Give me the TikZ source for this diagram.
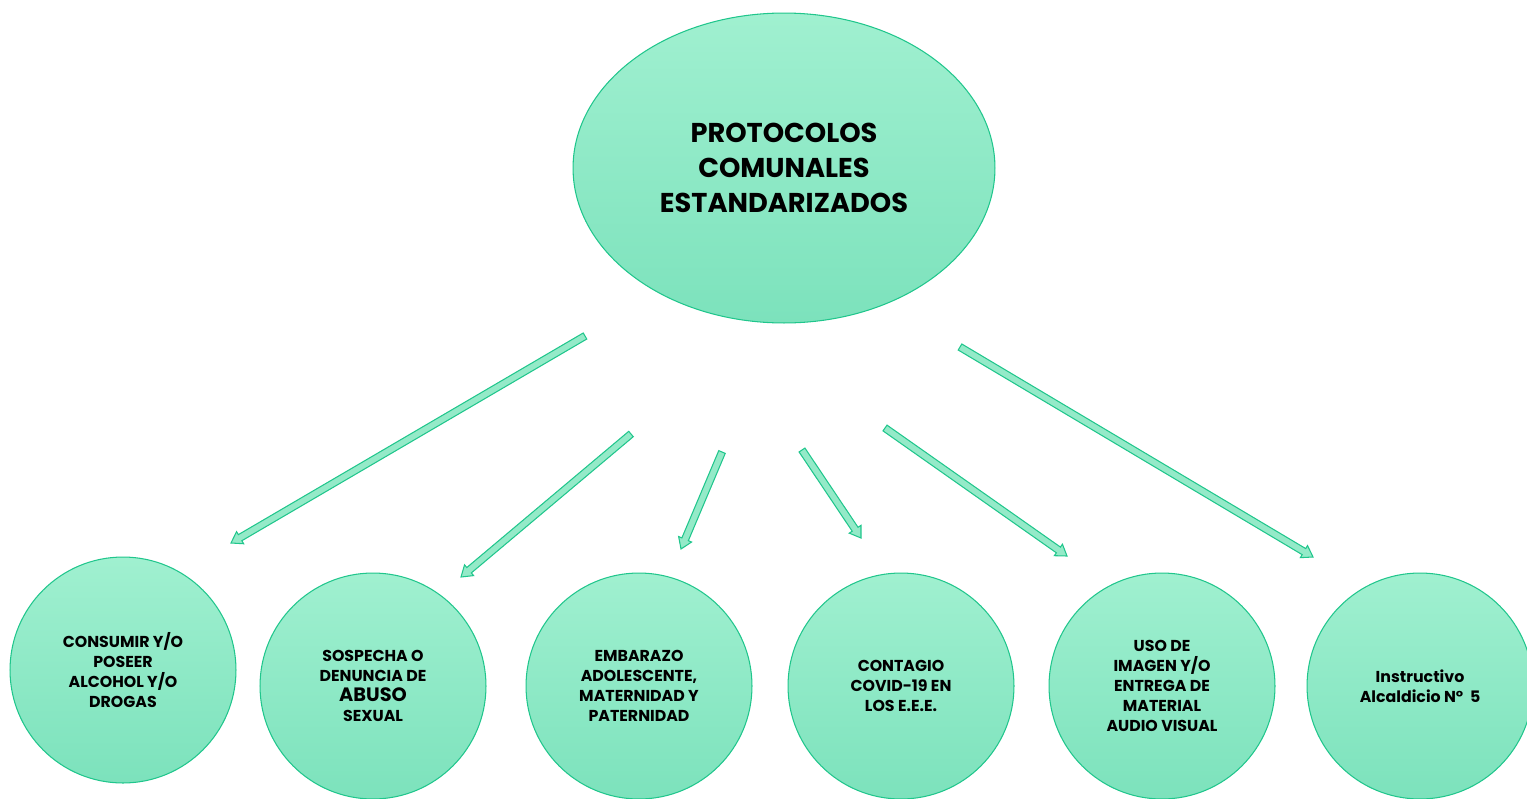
\documentclass[tikz,border=0pt]{standalone}
\usepackage{fontspec}
\setmainfont{Poppins}
\usetikzlibrary{calc,shapes.geometric}

\definecolor{mintedge}{RGB}{32,198,140}
\definecolor{minttop}{RGB}{160,240,208}
\definecolor{mintbot}{RGB}{124,226,188}
\definecolor{mintarrow}{RGB}{148,234,200}

\tikzset{
  topic/.style={ellipse, draw=mintedge, line width=0.6pt, top color=minttop, bottom color=mintbot,
    minimum width=8.44cm, minimum height=6.2cm, inner sep=0pt, align=center,
    font=\fontsize{15.5}{20}\selectfont\bfseries},
  item/.style={circle, draw=mintedge, line width=0.6pt, top color=minttop, bottom color=mintbot,
    minimum size=4.52cm, inner sep=0pt, align=center,
    font=\fontsize{9}{11.4}\selectfont\bfseries},
  arrowbody/.style={draw=mintedge, fill=mintarrow, line width=0.6pt, line join=miter}
}

% thin block arrow from #1 to #2
\newcommand{\blockarrow}[2]{%
  \coordinate (h) at ($(#2)!6pt!(#1)$);
  \filldraw[arrowbody] ($(#1)!2pt!90:(#2)$) -- ($(h)!2pt!90:(#2)$) -- ($(h)!4pt!90:(#2)$)
    -- (#2) -- ($(h)!4pt!-90:(#2)$) -- ($(h)!2pt!-90:(#2)$) -- ($(#1)!2pt!-90:(#2)$) -- cycle;
}

\begin{document}
\begin{tikzpicture}[x=0.02cm,y=-0.02cm]
\useasboundingbox (0,0) rectangle (1527,798);

\node[topic] (root) at (784,168) {PROTOCOLOS\\COMUNALES\\ESTANDARIZADOS};

\node[item] (alcohol) at (123,670) {CONSUMIR Y/O\\POSEER\\ALCOHOL Y/O\\DROGAS};
\node[item] (abuso) at (373,686) {SOSPECHA O\\DENUNCIA DE\\{\fontsize{11}{14}\selectfont ABUSO}\\SEXUAL};
\node[item] (embarazo) at (639,686) {EMBARAZO\\ADOLESCENTE,\\MATERNIDAD Y\\PATERNIDAD};
\node[item] (covid) at (901,686) {CONTAGIO\\COVID-19 EN\\LOS E.E.E.};
\node[item] (imagen) at (1162,686) {USO DE\\IMAGEN Y/O\\ENTREGA DE\\MATERIAL\\AUDIO VISUAL};
\node[item] (instructivo) at (1420,686) {Instructivo\\Alcaldicio N°~~5};

% arrow ends
\coordinate (s1) at (585,336);  \coordinate (e1) at (231,543);
\coordinate (s2) at (631,434);  \coordinate (e2) at (461,577);
\coordinate (s3) at (722,452);  \coordinate (e3) at (681,549);
\coordinate (s4) at (802,450);  \coordinate (e4) at (861,538);
\coordinate (s5) at (885,428);  \coordinate (e5) at (1067,556);
\coordinate (s6) at (960,347);  \coordinate (e6) at (1313,557);

\foreach \i in {1,...,6}
{
	\blockarrow{s\i}{e\i}
}
\end{tikzpicture}
\end{document}
